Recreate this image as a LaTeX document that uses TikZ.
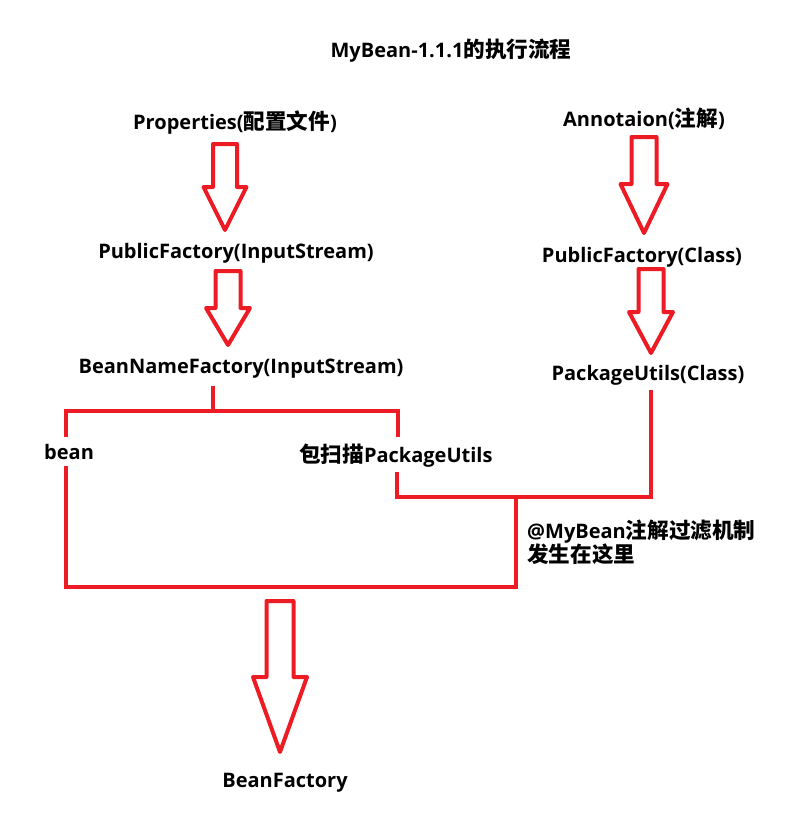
\documentclass[tikz,border=0pt]{standalone}
\usepackage{fontspec}
\setmainfont{Open Sans}
\newfontfamily\cjk{Noto Sans CJK SC}[Scale=1.08]
\newcommand\zh[1]{{\cjk #1}}
\definecolor{paintred}{RGB}{237,28,36}
\usetikzlibrary{calc}

% hollow block arrow: centre x, top, shoulder, tip, shaft half width, head half width
\newcommand\blockarrow[6]{%
  \draw [flowarrow] (#1-#5,#2) -- (#1+#5,#2) -- (#1+#5,#3) -- (#1+#6,#3)
    -- (#1,#4) -- (#1-#6,#3) -- (#1-#5,#3) -- cycle;}

\tikzset{
  flowline/.style={paintred, line width=4pt},
  flowarrow/.style={paintred, line width=4pt, line join=round, fill=white},
  flowtext/.style={font=\bfseries\fontsize{20}{24}\selectfont, inner sep=0pt, anchor=base},
}

\begin{document}
\begin{tikzpicture}[x=1pt,y=-1pt]
          \useasboundingbox [fill=white] (0,0) rectangle (804,825);

          \node [flowtext] (title) at (451,57) {MyBean-1.1.1\zh{的执行流程}};

          \node [flowtext] (props) at (235,129) {Properties(\zh{配置文件})};
          \node [flowtext] (annot) at (644,126) {Annotaion(\zh{注解})};
          \node [flowtext] (pubin) at (236,258) {PublicFactory(InputStream)};
          \node [flowtext] (pubcls) at (642,262) {PublicFactory(Class)};
          \node [flowtext] (namefac) at (241,373) {BeanNameFactory(InputStream)};
          \node [flowtext] (pkgcls) at (648,380) {PackageUtils(Class)};
          \node [flowtext, anchor=base west] (bean) at (44,459) {bean};
          \node [flowtext, anchor=base west] (scan) at (299,462) {\zh{包扫描}PackageUtils};
          \node [flowtext, anchor=base west, align=left] (note) at (527,562)
            {@MyBean\zh{注解过滤机制}\\\zh{发生在这里}};
          \node [flowtext] (beanfac) at (285,787) {BeanFactory};

          \blockarrow{225}{144}{187}{230}{12}{21.5} % Properties -> PublicFactory
          \blockarrow{228}{271}{308}{345}{12.5}{22} % PublicFactory -> BeanNameFactory
          \blockarrow{644}{137}{184}{233}{12.5}{23.5} % Annotaion -> PublicFactory
          \blockarrow{651}{269}{312}{353}{12.5}{22} % PublicFactory -> PackageUtils
          \blockarrow{280}{601}{677}{752}{13.5}{27} % merge -> BeanFactory

          \coordinate (split) at (213,411);
          \coordinate (leftcorner) at (66,587);
          \coordinate (join) at (516,497);
          \coordinate (merge) at (516,587);

          \draw [flowline] (namefac.south -| split) ++(0,8) -- (split);
          \draw [flowline] (66,437) |- (split) -| (398,437);
          \draw [flowline] (66,466) -- (leftcorner) -- (merge) -- (join);
          \draw [flowline] (397,472) |- (join) -| (651,390);
\end{tikzpicture}
\end{document}
